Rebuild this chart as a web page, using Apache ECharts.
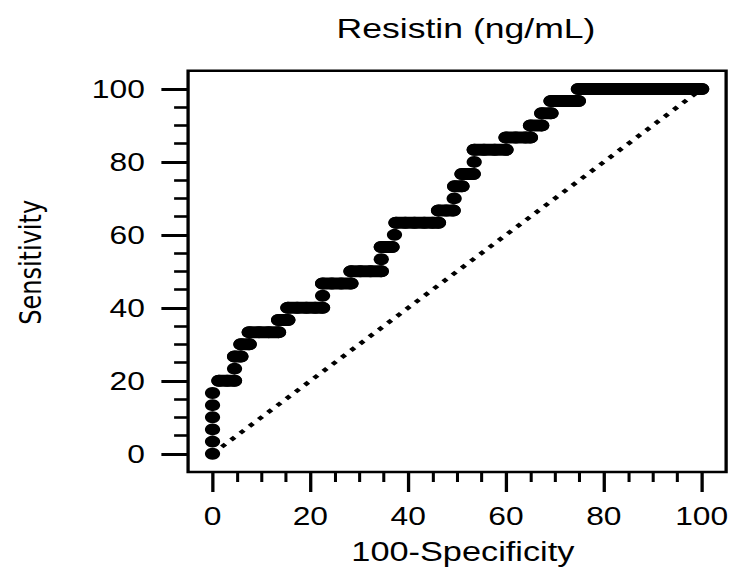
<!DOCTYPE html>
<html>
<head>
<meta charset="utf-8">
<script src="https://cdn.jsdelivr.net/npm/echarts@6/dist/echarts.min.js"></script>
<style>
html,body{margin:0;padding:0;background:#fff;overflow:hidden;}
#c{width:576px;height:570px;transform:scaleX(1.2708);transform-origin:0 0;}
</style>
</head>
<body>
<div id="c"></div>
<script>
// ROC curve points (100-Specificity, Sensitivity)
const fpr = [
  0,0,0,0,0,0,
  1.3,3,4.5,
  4.5,
  4.5,5.8,
  5.8,7.5,
  7.5,9.5,11.5,13.5,
  13.5,15.4,
  15.4,17.3,19.2,21,22.5,
  22.5,
  22.5,24.4,26.3,28.3,
  28.3,30.2,32.3,34.5,
  34.5,
  34.5,36.7,
  37.2,
  37.5,39.4,41.3,43.3,45,46.2,
  46.2,47.8,49.2,
  49.4,
  49.5,51,
  51,53.3,
  53.5,
  53.5,55.5,57.7,60,
  60,62,64,65,
  65,67.3,
  67.3,69.2,
  69.2,71.1,73,74.8,
  74.8,76.8,78.8,80.8,82.7,84.6,86.5,88.5,90.4,92.3,94.2,96.2,98.1,100
];
const sens = [
  0,3.33,6.67,10,13.33,16.67,
  20,20,20,
  23.33,
  26.67,26.67,
  30,30,
  33.33,33.33,33.33,33.33,
  36.67,36.67,
  40,40,40,40,40,
  43.33,
  46.67,46.67,46.67,46.67,
  50,50,50,50,
  53.33,
  56.67,56.67,
  60,
  63.33,63.33,63.33,63.33,63.33,63.33,
  66.67,66.67,66.67,
  70,
  73.33,73.33,
  76.67,76.67,
  80,
  83.33,83.33,83.33,83.33,
  86.67,86.67,86.67,86.67,
  90,90,
  93.33,93.33,
  96.67,96.67,96.67,96.67,
  100,100,100,100,100,100,100,100,100,100,100,100,100,100
];
const diagX = [0, 100];
const diagY = [0, 100];
const majorTicks = [0, 20, 40, 60, 80, 100];
const minorTicks = [5,10,15,25,30,35,45,50,55,65,70,75,85,90,95];
const titleText = 'Resistin (ng/mL)';
const xName = '100-Specificity';
const yName = 'Sensitivity';

const chart = echarts.init(document.getElementById('c'), null, {renderer: 'svg'});
const F = '"Liberation Sans", Arial, sans-serif';
const rocData = fpr.map((x, i) => [x, sens[i]]);
const diagData = diagX.map((x, i) => [x, diagY[i]]);

// horizontal runs: consecutive ROC points sharing the same sensitivity
const runData = [];
let i = 0;
while (i < fpr.length) {
  let j = i;
  while (j + 1 < fpr.length && sens[j + 1] === sens[i]) j++;
  if (j > i) {
    runData.push([fpr[i], sens[i]], [fpr[j], sens[j]], ['-', '-']);
  }
  i = j + 1;
}

chart.setOption({
  animation: false,
  backgroundColor: '#fff',
  graphic: [{
    type: 'text', x: 366.7, y: 28,
    style: {text: titleText, fill: '#000', font: '28px ' + F, align: 'center', verticalAlign: 'middle'}
  }],
  grid: {left: 148, right: 4.3, top: 70.7, bottom: 96.7, show: true,
         borderColor: '#000', borderWidth: 2.6, backgroundColor: '#fff'},
  xAxis: [{
    type: 'value', min: -5, max: 105, position: 'bottom',
    name: xName, nameLocation: 'middle', nameGap: 66,
    nameTextStyle: {fontFamily: F, fontSize: 27, color: '#000', padding: [0, 0, 0, 9]},
    axisLine: {show: false, onZero: false}, splitLine: {show: false},
    axisTick: {show: true, inside: false, customValues: majorTicks, length: 20, lineStyle: {color: '#000', width: 2.6}},
    axisLabel: {customValues: majorTicks, margin: 32, fontFamily: F, fontSize: 25, color: '#000'}
  }, {
    type: 'value', min: -5, max: 105, position: 'bottom',
    axisLine: {show: false, onZero: false}, splitLine: {show: false},
    axisTick: {show: true, inside: false, customValues: minorTicks, length: 10, lineStyle: {color: '#000', width: 2.4}},
    axisLabel: {show: false}
  }],
  yAxis: [{
    type: 'value', min: -5, max: 105, position: 'left',
    name: yName, nameLocation: 'middle', nameGap: 112,
    nameTextStyle: {fontFamily: '"DejaVu Sans", sans-serif', fontSize: 24, color: '#000', padding: [0, 0, 0, 18]},
    axisLine: {show: false, onZero: false}, splitLine: {show: false},
    axisTick: {show: true, inside: false, customValues: majorTicks, length: 21, lineStyle: {color: '#000', width: 3}},
    axisLabel: {customValues: majorTicks, margin: 34, fontFamily: F, fontSize: 25, color: '#000'}
  }, {
    type: 'value', min: -5, max: 105, position: 'left',
    axisLine: {show: false, onZero: false}, splitLine: {show: false},
    axisTick: {show: true, inside: false, customValues: minorTicks, length: 11, lineStyle: {color: '#000', width: 2.6}},
    axisLabel: {show: false}
  }],
  series: [{
    type: 'line', data: diagData, xAxisIndex: 0, yAxisIndex: 0, z: 2,
    showSymbol: false, symbol: 'none',
    lineStyle: {color: '#000', width: 4, type: [4, 6], cap: 'butt'}
  }, {
    type: 'line', data: runData, xAxisIndex: 0, yAxisIndex: 0, z: 3,
    showSymbol: false, symbol: 'none', connectNulls: false,
    lineStyle: {color: '#000', width: 12, cap: 'round', join: 'round'}
  }, {
    type: 'scatter', data: rocData, xAxisIndex: 0, yAxisIndex: 0, z: 4,
    symbol: 'circle', symbolSize: 12,
    itemStyle: {color: '#000', opacity: 1}
  }]
});
</script>
</body>
</html>
